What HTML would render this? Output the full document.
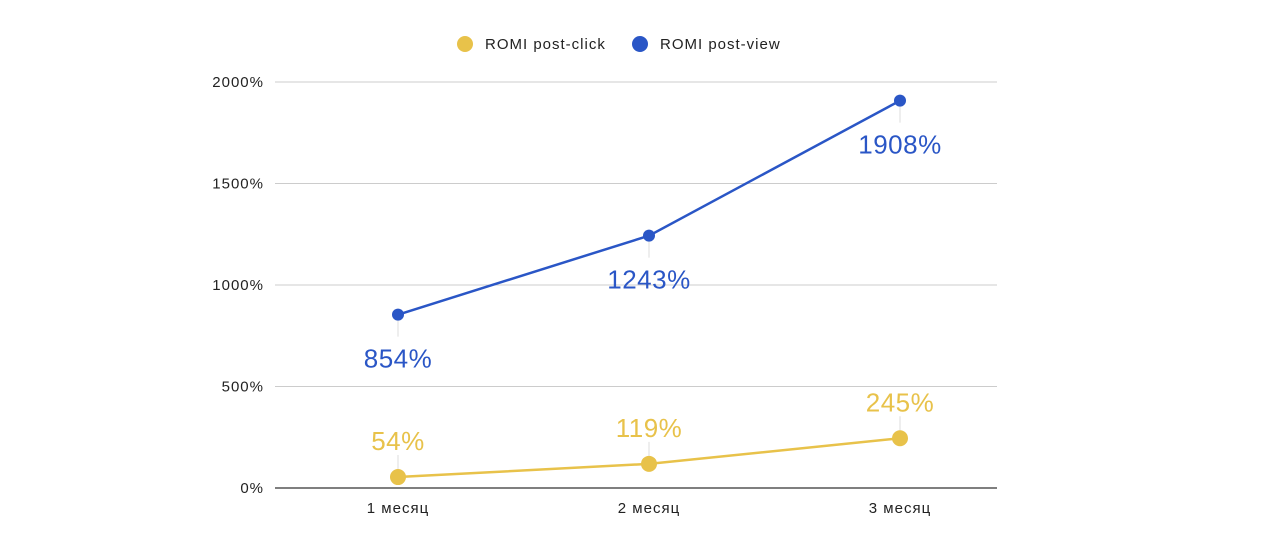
<!DOCTYPE html>
<html><head><meta charset="utf-8"><style>
body{margin:0;background:#fff;width:1276px;height:534px;overflow:hidden;font-family:"Liberation Sans",Arial,sans-serif}
</style></head><body>
<svg id="chart" width="1276" height="534">
<g id="legend">
 <circle cx="465" cy="44" r="8" fill="#e8c24a"/>
 <text x="485" y="49" font-size="15" letter-spacing="1" fill="#222">ROMI post-click</text>
 <circle cx="640" cy="44" r="8" fill="#2a56c6"/>
 <text x="660" y="49" font-size="15" letter-spacing="1" fill="#222">ROMI post-view</text>
</g>
<g id="grid"></g><g id="marks"></g>
</svg>
<script>
const categories=["1 месяц","2 месяц","3 месяц"];
const postClick=[54,119,245];
const postView=[854,1243,1908];
const yTicks=[0,500,1000,1500,2000];
const NS="http://www.w3.org/2000/svg";
const x0=275,x1=997,yBase=488,yTop=82,yMax=2000;
const xs=i=>398+i*251;
const ys=v=>yBase-(v/yMax)*(yBase-yTop);
function mk(t,a,p){const e=document.createElementNS(NS,t);for(const k in a)e.setAttribute(k,a[k]);p.appendChild(e);return e;}
const grid=document.getElementById('grid'),marks=document.getElementById('marks');
yTicks.forEach(v=>{
 const l=mk('line',{x1:x0,x2:x1,y1:ys(v),y2:ys(v),stroke:v===0?'#333':'#ccc','stroke-width':v===0?1.3:1},grid);
 
 
 const t=mk('text',{x:264,y:ys(v)+5,'text-anchor':'end','font-size':15,'letter-spacing':1,fill:'#222'},grid);
 t.textContent=v+'%';
 
 
});
categories.forEach((c,i)=>{
 const t=mk('text',{x:xs(i),y:513,'text-anchor':'middle','font-size':15,'letter-spacing':1,fill:'#222'},grid);
 t.textContent=c;
 
 
});
function series(vals,color,r,below,name){
 const pts=vals.map((v,i)=>xs(i)+','+ys(v)).join(' ');
 const pl=mk('polyline',{points:pts,fill:'none',stroke:color,'stroke-width':2.5},marks);
 
 
 vals.forEach((v,i)=>{
  const y=ys(v);
  const ll=mk('line',{x1:xs(i),x2:xs(i),y1:y,y2:below?y+22:y-22,stroke:'#ddd','stroke-width':1},marks);
  
  
  const c=mk('circle',{cx:xs(i),cy:y,r:r,fill:color},marks);
  
  
  const t=mk('text',{x:xs(i),y:below?y+53:y-27,'text-anchor':'middle','font-size':26,'letter-spacing':0.5,fill:color},marks);
  t.textContent=v+'%';
  
  
 });
}
series(postClick,'#e8c24a',8,false,'post-click');
series(postView,'#2a56c6',6,true,'post-view');
</script>
</body></html>
